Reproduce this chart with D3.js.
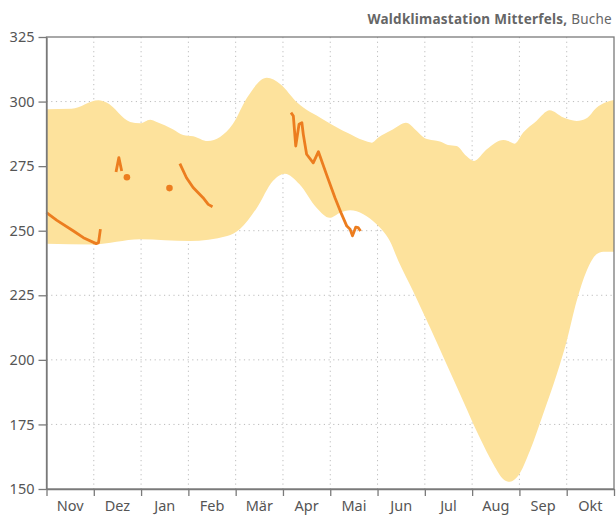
<!DOCTYPE html>
<html><head><meta charset="utf-8">
<script src="https://cdn.jsdelivr.net/npm/d3@7"></script>
<style>
html,body{margin:0;padding:0;background:#fff;}
svg{display:block;font-family:"Noto Sans",sans-serif;}
</style></head>
<body><svg id="c" width="616" height="515"></svg>
<script>
// Months (hydrological year) and y ticks
const months = ["Nov","Dez","Jan","Feb","Mär","Apr","Mai","Jun","Jul","Aug","Sep","Okt"];
const yTicks = [150,175,200,225,250,275,300,325];

// Band upper boundary [month position, value]
const bandUpper = [[0,297.0],[0.53,297.2],[1.10,300.5],[1.27,299.6],[1.77,292.1],[1.98,291.6],[2.19,293.0],[2.33,292.1],[2.67,289.3],[2.89,287.1],[3.10,286.6],[3.41,284.7],[3.67,286.3],[3.94,291.3],[4.24,301.5],[4.66,309.2],[4.94,306.8],[5.30,299.6],[5.85,293.1],[6.21,289.3],[6.35,288.0],[6.70,285.0],[6.88,284.1],[7.01,286.0],[7.33,289.3],[7.60,291.8],[7.83,288.6],[8.00,285.8],[8.18,285.0],[8.32,284.5],[8.49,283.2],[8.67,282.8],[8.88,278.9],[9.04,277.0],[9.31,281.5],[9.66,285.1],[9.76,284.7],[9.90,283.7],[10.08,288.0],[10.36,292.5],[10.64,296.6],[10.93,293.8],[11.21,292.5],[11.42,293.5],[11.63,297.6],[12,300.6]];
// Band lower boundary
const bandLower = [[0,245.0],[0.98,244.7],[1.98,246.7],[3.03,246.0],[3.82,248.0],[4.09,250.7],[4.45,258.9],[4.79,269.3],[5.04,272.1],[5.35,268.0],[5.71,258.9],[5.99,255.0],[6.21,257.0],[6.42,257.9],[6.70,256.4],[6.98,252.5],[7.26,246.0],[7.44,238.3],[7.75,226.7],[8.11,212.5],[8.46,198.3],[8.81,184.1],[9.16,169.9],[9.45,159.6],[9.66,153.8],[9.80,152.8],[9.97,155.0],[10.22,164.7],[10.50,178.9],[10.79,194.4],[11.00,207.3],[11.21,222.8],[11.42,234.4],[11.63,240.9],[11.77,241.9],[12,241.9]];

// Current-year measurement segments
const seg1 = [[0,257.0],[0.22,254.0],[0.57,249.9],[0.78,247.3],[1.05,245.0],[1.10,245.4],[1.14,250.6]];
const seg2 = [[1.47,272.7],[1.53,278.3],[1.59,273.1]];
const seg3 = [[2.82,276.0],[2.96,270.5],[3.10,266.7],[3.31,262.8],[3.42,260.2],[3.51,259.3]];
const seg4 = [[5.17,295.7],[5.22,294.4],[5.27,282.8],[5.34,291.2],[5.40,291.8],[5.43,287.3],[5.50,279.6],[5.64,276.3],[5.75,280.6],[5.92,271.8],[6.10,262.8],[6.24,256.4],[6.35,251.8],[6.42,250.6],[6.47,248.0],[6.54,251.4],[6.59,251.2],[6.64,249.9]];
const points = [[1.70,270.7],[2.60,266.5]];

const svg = d3.select("#c");
const L=46.5, R=614, T=37, B=489;
const x = d3.scaleLinear().domain([0,12]).range([L,R]);
const y = d3.scaleLinear().domain([150,325]).range([B,T]);
const gray="#7a7a7a", txt="#555";

// grid
const grid = svg.append("g").attr("stroke","#bdbdbd").attr("stroke-dasharray","1.2,3.5").attr("stroke-width",1);
yTicks.slice(1,-1).forEach(v=>grid.append("line").attr("x1",L).attr("x2",R).attr("y1",y(v)).attr("y2",y(v)));
d3.range(1,12).forEach(m=>grid.append("line").attr("x1",x(m)).attr("x2",x(m)).attr("y1",T).attr("y2",B));

// band: upper left->right, then lower right->left
const bandLine = d3.line().x(d=>x(d[0])).y(d=>y(d[1])).curve(d3.curveMonotoneX);
const loRev = bandLower.slice().reverse();
svg.append("path").attr("d", bandLine(bandUpper) + bandLine(loRev).replace(/^M/,"L") + "Z").attr("fill","#fde29c").attr("stroke","none");

// lines
const segLine = d3.line().x(d=>x(d[0])).y(d=>y(d[1]));
[seg1,seg2,seg3,seg4].forEach(s=>svg.append("path").attr("d",segLine(s)).attr("fill","none").attr("stroke","#ec7d1f").attr("stroke-width",2.8).attr("stroke-linejoin","round").attr("stroke-linecap","butt"));
svg.selectAll("circle.pt").data(points).enter().append("circle").attr("cx",d=>x(d[0])).attr("cy",d=>y(d[1])).attr("r",3.3).attr("fill","#ec7d1f");

// frame
svg.append("rect").attr("x",L).attr("y",T).attr("width",R-L).attr("height",B-T).attr("fill","none").attr("stroke",gray).attr("stroke-width",1.3);

// y axis
const ya = svg.append("g").attr("transform",`translate(${L},0)`).call(d3.axisLeft(y).tickValues(yTicks).tickSize(8).tickSizeOuter(0).tickPadding(4));
ya.select(".domain").attr("stroke",gray).attr("stroke-width",1.3);
ya.selectAll(".tick line").attr("stroke",gray).attr("stroke-width",1.3);
ya.selectAll(".tick text").attr("fill",txt).attr("font-size",14.5).attr("font-family","Noto Sans, sans-serif");

// x axis
const xa = svg.append("g").attr("transform",`translate(0,${B})`).call(d3.axisBottom(x).tickValues(d3.range(0,13)).tickSize(7).tickSizeOuter(0).tickFormat(""));
xa.select(".domain").attr("stroke",gray).attr("stroke-width",1.3);
xa.selectAll(".tick line").attr("stroke",gray).attr("stroke-width",1.3);
svg.append("g").selectAll("text").data(months).enter().append("text")
  .attr("x",(d,i)=>x(i+0.5)).attr("y",511).attr("text-anchor","middle")
  .attr("fill",txt).attr("font-size",14.5).text(d=>d);

// title
const t = svg.append("text").attr("x",612).attr("y",23.5).attr("text-anchor","end").attr("font-size",13.5).attr("letter-spacing",0.25).attr("fill","#666");
t.append("tspan").attr("font-weight","bold").text("Waldklimastation Mitterfels,");
t.append("tspan").text(" Buche");
</script></body></html>
